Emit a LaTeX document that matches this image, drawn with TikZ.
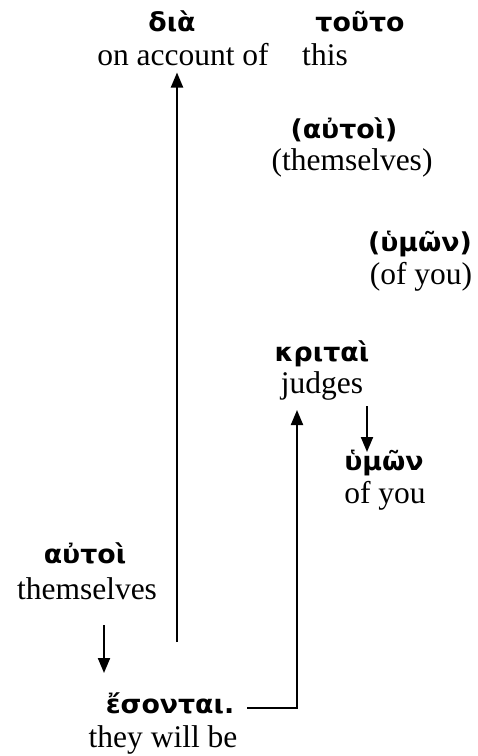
\documentclass[tikz,border=0pt]{standalone}
\usepackage{fontspec}
\setmainfont{Liberation Serif}
\newfontfamily\grfont{DejaVu Sans}[FakeStretch=1.03]
\usetikzlibrary{arrows.meta}
\tikzset{
  gr/.style={font=\grfont\bfseries\fontsize{26}{29}\selectfont, inner sep=0pt, anchor=base},
  en/.style={font=\fontsize{31.5}{36}\selectfont, inner sep=0pt, anchor=base},
  arr/.style={line width=2pt, -{Triangle[length=15pt,width=12pt]}},
  ln/.style={line width=2pt}
}
\begin{document}
\begin{tikzpicture}[x=1pt,y=-1pt]
\useasboundingbox (0,0) rectangle (478,756);
\node[gr] (g1) at (172,31) {διὰ};
\node[gr] (g2) at (360,31) {τοῦτο};
\node[en] (e1) at (183,65) {on account of};
\node[en] (e2) at (325,65) {this};
\node[gr] (g3) at (344,138) {(αὐτοὶ)};
\node[en] (e3) at (352,170) {(themselves)};
\node[gr] (g4) at (420,251) {(ὑμῶν)};
\node[en] (e4) at (421,284) {(of you)};
\node[gr] (g5) at (322,361) {κριταὶ};
\node[en] (e5) at (322,393) {judges};
\node[gr] (g6) at (384,470) {ὑμῶν};
\node[en] (e6) at (385,503) {of you};
\node[gr] (g7) at (85,563) {αὐτοὶ};
\node[en] (e7) at (87,599) {themselves};
\node[gr] (g8) at (170,713) {ἔσονται.};
\node[en] (e8) at (163,747) {they will be};
% connectors
\coordinate (a1s) at (177,642);
\draw[arr, shorten >=7pt] (a1s) -- (a1s |- e1.south);
\coordinate (a2s) at (367,406);
\coordinate (a2e) at (367,452);
\draw[arr] (a2s) -- (a2e);
\coordinate (a3s) at (104,625);
\coordinate (a3e) at (104,673);
\draw[arr] (a3s) -- (a3e);
\coordinate (a4s) at (247,708);
\coordinate (a4c) at (297,708);
\coordinate (a4e) at (297,410);
\draw[arr] (a4s) -- (a4c) -- (a4e);
\end{tikzpicture}
\end{document}
